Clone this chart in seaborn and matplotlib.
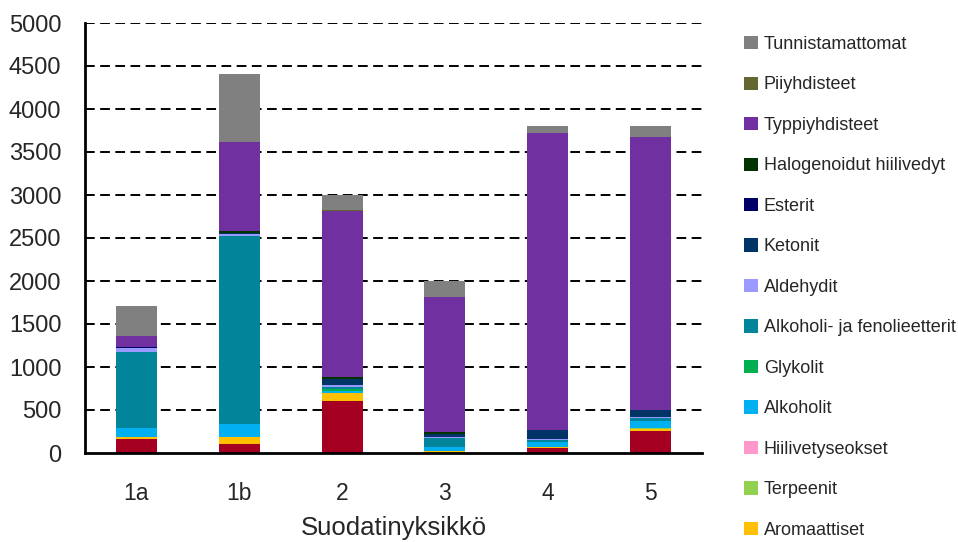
import matplotlib
matplotlib.use("Agg")
import matplotlib.pyplot as plt
from matplotlib.patches import Patch
import numpy as np
import pandas as pd
import seaborn as sns

categories = ["1a", "1b", "2", "3", "4", "5"]

# stacking order: bottom -> top
series_names = [
    "Alifaattiset hiilivedyt",
    "Aromaattiset",
    "Terpeenit",
    "Hiilivetyseokset",
    "Alkoholit",
    "Glykolit",
    "Alkoholi- ja fenolieetterit",
    "Aldehydit",
    "Ketonit",
    "Esterit",
    "Halogenoidut hiilivedyt",
    "Typpiyhdisteet",
    "Piiyhdisteet",
    "Tunnistamattomat",
]

alifaattiset = [160, 105, 605, 0, 55, 260]
aromaattiset = [22, 77, 89, 25, 10, 19]
terpeenit = [0, 0, 0, 0, 8, 15]
hiilivetyseokset = [0, 0, 0, 0, 0, 0]
alkoholit = [110, 151, 27, 45, 55, 78]
glykolit = [0, 0, 19, 0, 0, 0]
eetterit = [883, 2194, 27, 110, 23, 38]
aldehydit = [47, 24, 24, 5, 10, 10]
ketonit = [0, 10, 66, 40, 106, 80]
esterit = [12, 0, 0, 0, 0, 0]
halogenoidut = [0, 24, 31, 15, 0, 0]
typpiyhdisteet = [127, 1031, 1926, 1578, 3454, 3175]
piiyhdisteet = [0, 0, 10, 0, 0, 0]
tunnistamattomat = [348, 792, 180, 182, 80, 128]

series_values = [alifaattiset, aromaattiset, terpeenit, hiilivetyseokset, alkoholit,
                 glykolit, eetterit, aldehydit, ketonit, esterit, halogenoidut,
                 typpiyhdisteet, piiyhdisteet, tunnistamattomat]

colors = ["#A50021", "#FFC000", "#92D050", "#FF99CC", "#00B0F0", "#00B050",
          "#02859A", "#9999FF", "#003366", "#000066", "#003300", "#7030A0",
          "#666633", "#808080"]

yticks = [0, 500, 1000, 1500, 2000, 2500, 3000, 3500, 4000, 4500, 5000]

sns.set_style("white")
plt.rcParams["font.family"] = ["Liberation Sans", "DejaVu Sans"]

fig = plt.figure(figsize=(9.58, 5.42), dpi=100)
ax = fig.add_axes([85 / 958, 1 - 453 / 542, 617 / 958, 430 / 542])

bottom = np.zeros(len(categories))
for name, vals, col in zip(series_names, series_values, colors):
    df = pd.DataFrame({"cat": categories, "val": vals})
    sns.barplot(data=df, x="cat", y="val", order=categories, color=col,
                width=0.4, bottom=bottom.copy(), errorbar=None, ax=ax,
                saturation=1, linewidth=0, zorder=3)
    bottom += np.array(vals, dtype=float)

ax.set_xlim(-0.5, 5.5)
ax.set_ylim(0, 5000)
ax.set_yticks(yticks)
ax.set_yticklabels([str(t) for t in yticks], fontsize=17)
ax.set_xticks(range(len(categories)))
ax.set_xticklabels(categories, fontsize=16.5)
ax.tick_params(axis="x", length=0, pad=21)
ax.tick_params(axis="y", direction="out", length=9, width=1.5, color="black", pad=8)
ax.set_xlabel("Suodatinyksikkö", fontsize=18.5, labelpad=8)
ax.set_ylabel("")

for t in yticks[1:]:
    ax.axhline(t, color="black", lw=1.4, linestyle=(0, (5, 2.8)), zorder=1)

for s in ["top", "right"]:
    ax.spines[s].set_visible(False)
for s in ["left", "bottom"]:
    ax.spines[s].set_color("black")
    ax.spines[s].set_linewidth(2)
    ax.spines[s].set_zorder(5)

# legend (top entry first); the reference's legend is cut off at the bottom
# edge, so the bottom-most series' entry is not visible there
legend_names = series_names[::-1][:13]
legend_colors = colors[::-1][:13]
handles = [Patch(facecolor=c, edgecolor="none", label=n)
           for n, c in zip(legend_names, legend_colors)]
fig.legend(handles=handles, loc="upper left",
           bbox_to_anchor=(744 / 958, 1 - 36 / 542), frameon=False,
           fontsize=13, handlelength=0.75, handleheight=0.75,
           handletextpad=0.35, labelspacing=1.30, borderpad=0, borderaxespad=0)

fig.savefig("out.png", dpi=100)
